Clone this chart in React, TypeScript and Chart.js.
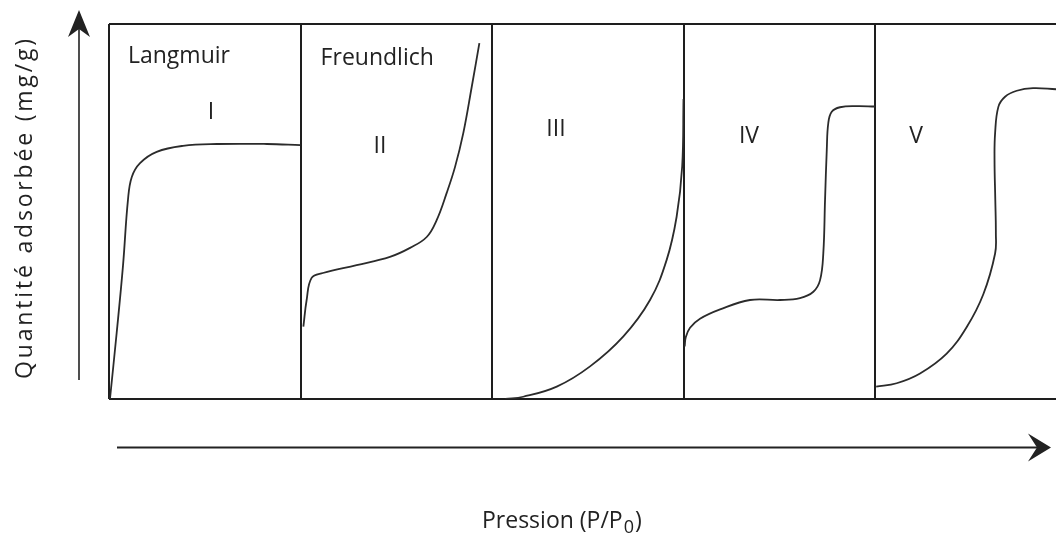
import React, { useEffect, useRef } from "react";
import { Chart, registerables } from "chart.js";

Chart.register(...registerables);

// ---- Data (x = fraction of each panel's pressure range, y = fraction of adsorbed quantity) ----
const panelNames = ["Langmuir", "Freundlich"];
const panelNameX = [0.099, 0.105];
const panelNameY = [0.896, 0.891];

const panelNumerals = ["I", "II", "III", "IV", "V"];
const numeralX = [0.533, 0.415, 0.334, 0.342, 0.214];
const numeralY = [0.747, 0.656, 0.701, 0.683, 0.683];

const xAxisLabel = "Pression (P/P";
const xAxisSub = "0";
const xAxisEnd = ")";
const yAxisLabel = "Quantité adsorbée (mg/g)";

const panelBounds = [0, 1, 2, 3, 4];

const typeIX = [0.005, 0.04, 0.073, 0.099, 0.119, 0.162, 0.249, 0.386, 0.564, 0.825, 1.0];
const typeIY = [0.0, 0.176, 0.355, 0.531, 0.592, 0.629, 0.659, 0.675, 0.68, 0.68, 0.677];

const typeIIX = [0.015, 0.032, 0.058, 0.117, 0.293, 0.467, 0.572, 0.659, 0.711, 0.763, 0.807, 0.85, 0.894, 0.934];
const typeIIY = [0.193, 0.264, 0.323, 0.336, 0.357, 0.379, 0.403, 0.432, 0.477, 0.549, 0.619, 0.709, 0.832, 0.949];

const typeIIIX = [0.07, 0.163, 0.338, 0.512, 0.686, 0.825, 0.912, 0.964, 0.993, 1.0];
const typeIIIY = [0.0, 0.006, 0.033, 0.087, 0.167, 0.264, 0.371, 0.486, 0.62, 0.8];

const typeIVX = [0.006, 0.012, 0.034, 0.086, 0.191, 0.347, 0.504, 0.608, 0.678, 0.713, 0.73, 0.739, 0.748, 0.756, 0.774, 0.817, 0.904, 1.0];
const typeIVY = [0.14, 0.165, 0.19, 0.214, 0.239, 0.264, 0.264, 0.269, 0.286, 0.317, 0.389, 0.531, 0.664, 0.736, 0.766, 0.778, 0.781, 0.78];

const typeVX = [0.006, 0.113, 0.235, 0.374, 0.479, 0.566, 0.627, 0.631, 0.628, 0.624, 0.627, 0.644, 0.679, 0.74, 0.825, 0.945];
const typeVY = [0.033, 0.042, 0.068, 0.121, 0.192, 0.28, 0.388, 0.443, 0.531, 0.637, 0.709, 0.779, 0.806, 0.822, 0.829, 0.826];

const curvesX = [typeIX, typeIIX, typeIIIX, typeIVX, typeVX];
const curvesY = [typeIY, typeIIY, typeIIIY, typeIVY, typeVY];

const INK = "#222222";
const FONT = '"Open Sans", "Noto Sans", sans-serif';

const decorPlugin = {
  id: "decor",
  afterDraw(chart: any) {
    const { ctx, chartArea: a, scales } = chart;
    const xs = scales.x;
    const ys = scales.y;
    ctx.save();
    ctx.fillStyle = INK;
    ctx.strokeStyle = INK;

    // Panel names
    ctx.font = `23px ${FONT}`;
    ctx.textAlign = "left";
    ctx.textBaseline = "alphabetic";
    panelNames.forEach((n, i) => {
      ctx.fillText(n, xs.getPixelForValue(i + panelNameX[i]), ys.getPixelForValue(panelNameY[i]));
    });

    // Roman numerals
    ctx.textAlign = "center";
    panelNumerals.forEach((n, i) => {
      ctx.fillText(n, xs.getPixelForValue(i + numeralX[i]), ys.getPixelForValue(numeralY[i]));
    });

    // Y arrow
    const yx = a.left - 30;
    ctx.lineWidth = 1.6;
    ctx.beginPath();
    ctx.moveTo(yx, a.bottom - 19);
    ctx.lineTo(yx, a.top + 4);
    ctx.stroke();
    ctx.beginPath();
    ctx.moveTo(yx, a.top - 14);
    ctx.lineTo(yx + 11, a.top + 13);
    ctx.lineTo(yx, a.top + 5);
    ctx.lineTo(yx - 11, a.top + 13);
    ctx.closePath();
    ctx.fill();

    // X arrow
    const xy = a.bottom + 48.5;
    const tip = a.right - 5;
    ctx.lineWidth = 2;
    ctx.beginPath();
    ctx.moveTo(a.left + 8, xy);
    ctx.lineTo(tip - 12, xy);
    ctx.stroke();
    ctx.beginPath();
    ctx.moveTo(tip, xy);
    ctx.lineTo(tip - 23, xy - 14);
    ctx.lineTo(tip - 14, xy);
    ctx.lineTo(tip - 23, xy + 14);
    ctx.closePath();
    ctx.fill();

    // Y label (rotated), spread with letter spacing to the reference length
    ctx.save();
    ctx.translate(a.left - 77.5, (a.top + 13 + a.bottom - 21) / 2);
    ctx.rotate(-Math.PI / 2);
    ctx.font = `23px ${FONT}`;
    ctx.textAlign = "center";
    ctx.textBaseline = "alphabetic";
    const target = 340;
    const w = ctx.measureText(yAxisLabel).width;
    if ("letterSpacing" in ctx) {
      const sp = (target - w) / (yAxisLabel.length - 1);
      (ctx as any).letterSpacing = `${sp.toFixed(2)}px`;
      const w2 = ctx.measureText(yAxisLabel).width;
      ctx.fillText(yAxisLabel, (w2 - target) / 2 - (w2 - target) / 2, 0);
      (ctx as any).letterSpacing = "0px";
    } else {
      ctx.scale(target / w, 1);
      ctx.fillText(yAxisLabel, 0, 0);
    }
    ctx.restore();

    // X label with subscript
    ctx.textAlign = "left";
    ctx.textBaseline = "alphabetic";
    ctx.font = `23px ${FONT}`;
    let lx = a.left + 373;
    const ly = a.bottom + 129;
    ctx.fillText(xAxisLabel, lx, ly);
    lx += ctx.measureText(xAxisLabel).width + 1;
    ctx.font = `18px ${FONT}`;
    ctx.fillText(xAxisSub, lx, ly + 5);
    lx += ctx.measureText(xAxisSub).width + 1;
    ctx.font = `23px ${FONT}`;
    ctx.fillText(xAxisEnd, lx, ly);

    ctx.restore();
  },
};

export default function App() {
  const ref = useRef<HTMLCanvasElement | null>(null);

  useEffect(() => {
    if (!ref.current) return;
    const datasets = curvesX.map((xsArr, p) => ({
      label: panelNumerals[p],
      data: xsArr.map((v, k) => ({ x: p + v, y: curvesY[p][k] })),
      borderColor: "#2b2b2b",
      borderWidth: 1.8,
      pointRadius: 0,
      tension: 0.4,
      fill: false,
    }));

    const chart = new Chart(ref.current, {
      type: "line",
      data: { datasets },
      plugins: [decorPlugin],
      options: {
        animation: false,
        responsive: false,
        maintainAspectRatio: false,
        layout: { padding: { left: 109, top: 24, right: 0, bottom: 139 } },
        plugins: { legend: { display: false }, tooltip: { enabled: false }, title: { display: false } },
        scales: {
          x: {
            type: "linear",
            min: 0,
            max: 4.945,
            border: { display: false },
            ticks: { display: false },
            grid: { color: "#1e1e1e", lineWidth: 2, drawTicks: false },
            afterBuildTicks: (s: any) => {
              s.ticks = panelBounds.map((v) => ({ value: v }));
            },
          },
          y: {
            type: "linear",
            min: 0,
            max: 1,
            border: { display: false },
            ticks: { display: false },
            grid: { color: "#1e1e1e", lineWidth: 2, drawTicks: false },
            afterBuildTicks: (s: any) => {
              s.ticks = [0, 1].map((v) => ({ value: v }));
            },
          },
        },
      },
    });
    return () => chart.destroy();
  }, []);

  return (
    <div style={{ position: "absolute", left: 0, top: 0, width: 1056, height: 538, background: "#fff" }}>
      <canvas ref={ref} width={1056} height={538} style={{ display: "block" }} />
    </div>
  );
}
